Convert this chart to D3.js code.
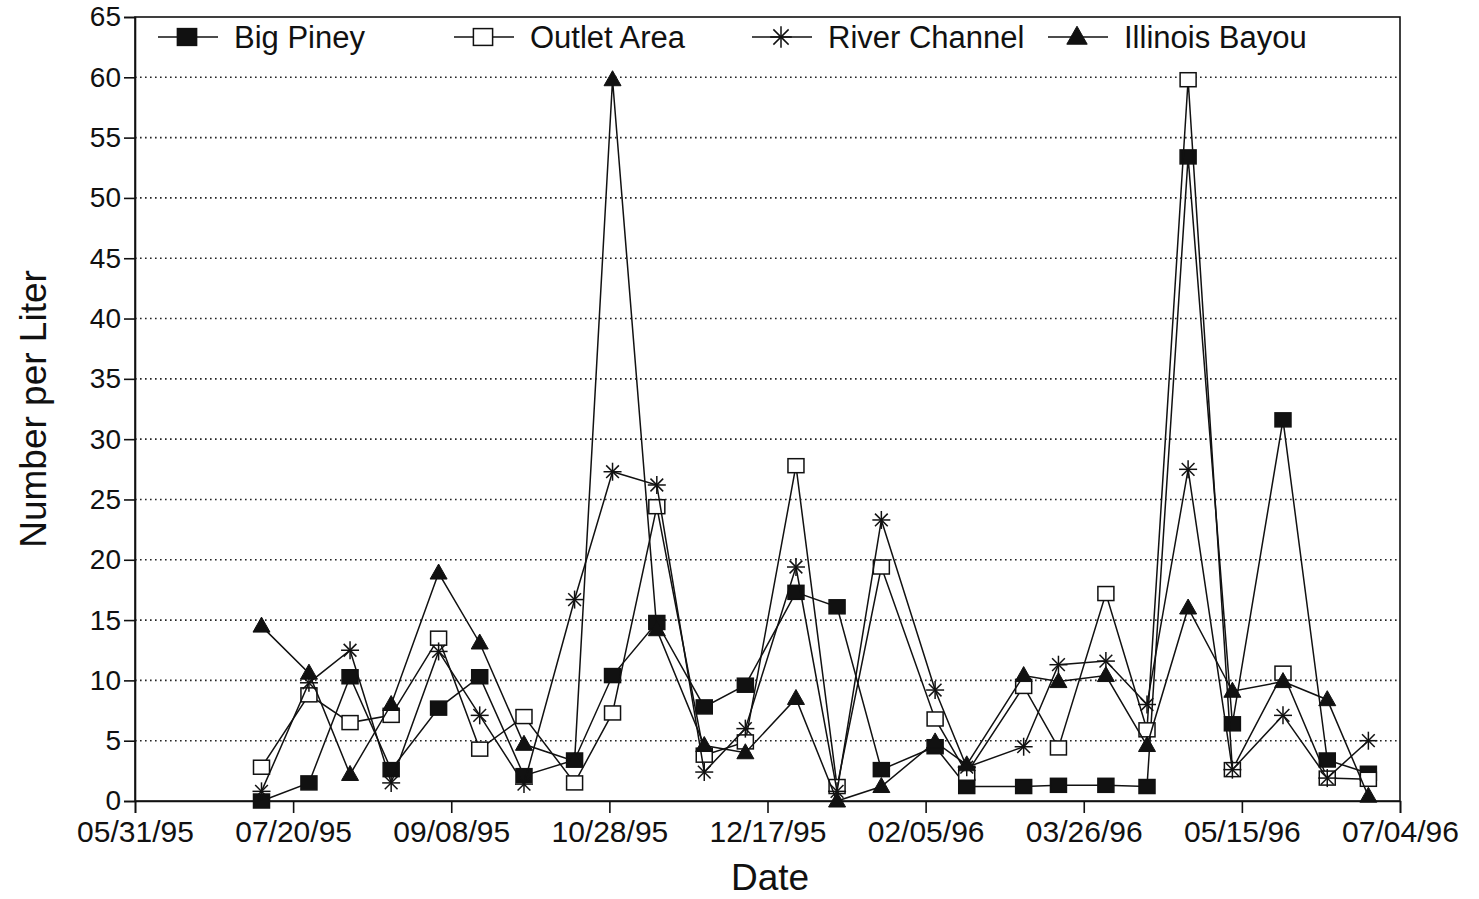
<!DOCTYPE html>
<html>
<head>
<meta charset="utf-8">
<script src="https://cdn.jsdelivr.net/npm/d3@7"></script>
<style>
    body { margin: 0; background: #ffffff; }
    svg { display: block; font-family: "Liberation Sans", Arial, sans-serif; }
</style>
</head>
<body>
<div id="chart"></div>
<script>
// Sampling dates (roughly every two weeks)
const dates = [
    "1995-07-10", "1995-07-25", "1995-08-07", "1995-08-20", "1995-09-04",
    "1995-09-17", "1995-10-01", "1995-10-17", "1995-10-29", "1995-11-12",
    "1995-11-27", "1995-12-10", "1995-12-26", "1996-01-08", "1996-01-22",
    "1996-02-08", "1996-02-18", "1996-03-07", "1996-03-18", "1996-04-02",
    "1996-04-15", "1996-04-28", "1996-05-12", "1996-05-28", "1996-06-11",
    "1996-06-24"
];

const bigPiney = [0, 1.5, 10.3, 2.6, 7.7, 10.3, 2.1, 3.4, 10.4, 14.8, 7.8, 9.6, 17.3,
    16.1, 2.6, 4.5, 1.2, 1.2, 1.3, 1.3, 1.2, 53.4, 6.4, 31.6, 3.4, 2.3];
const outletArea = [2.8, 8.8, 6.5, 7.1, 13.5, 4.3, 7.0, 1.5, 7.3, 24.4, 3.8, 4.9, 27.8,
    1.2, 19.4, 6.8, 2.3, 9.5, 4.4, 17.2, 5.9, 59.8, 2.6, 10.6, 1.9, 1.8];
const riverChannel = [0.8, 9.8, 12.5, 1.5, 12.4, 7.1, 1.4, 16.7, 27.3, 26.2, 2.4, 6.0, 19.4,
    0.8, 23.3, 9.2, 2.8, 4.5, 11.3, 11.6, 8.0, 27.5, 2.6, 7.1, 1.9, 5.0];
const illinoisBayou = [14.5, 10.6, 2.2, 8.0, 18.9, 13.1, 4.7, 3.3, 59.8, 14.2, 4.6, 4.0, 8.5,
    0, 1.2, 4.9, 3.0, 10.4, 9.9, 10.4, 4.6, 16.0, 9.1, 9.9, 8.4, 0.4];

const seriesNames = ["Big Piney", "Outlet Area", "River Channel", "Illinois Bayou"];
const seriesMarkers = ["filledSquare", "openSquare", "star", "triangle"];
const yTicks = [0, 5, 10, 15, 20, 25, 30, 35, 40, 45, 50, 55, 60, 65];
const xStart = "1995-05-31";
const xEnd = "1996-07-04";

function drawChart() {
    const width = 1479;
    const height = 899;
    const margin = { left: 135, right: 79, top: 17, bottom: 98 };
    const parse = d3.timeParse("%Y-%m-%d");

    const svg = d3.select("#chart")
        .append("svg")
        .attr("width", width)
        .attr("height", height);

    const x = d3.scaleTime()
        .domain([parse(xStart), parse(xEnd)])
        .range([margin.left, width - margin.right]);

    const y = d3.scaleLinear()
        .domain([0, 65])
        .range([height - margin.bottom, margin.top]);

    // Dotted gridlines
    svg.append("g")
        .selectAll("line")
        .data(yTicks.filter(v => v > 0 && v < 65))
        .join("line")
        .attr("x1", x.range()[0])
        .attr("x2", x.range()[1])
        .attr("y1", d => y(d))
        .attr("y2", d => y(d))
        .style("stroke", "#222")
        .style("stroke-width", 1.6)
        .style("stroke-dasharray", "1.6,3.4");

    // Frame
    svg.append("rect")
        .attr("x", x.range()[0])
        .attr("y", y.range()[1])
        .attr("width", x.range()[1] - x.range()[0])
        .attr("height", y.range()[0] - y.range()[1])
        .style("fill", "none")
        .style("stroke", "#111")
        .style("stroke-width", 1.6);

    // X axis, a tick every 50 days
    const xTickValues = d3.range(0, 401, 50).map(d => d3.timeDay.offset(parse(xStart), d));
    const xAxis = svg.append("g")
        .attr("transform", `translate(0,${y(0)})`)
        .call(d3.axisBottom(x)
            .tickValues(xTickValues)
            .tickFormat(d3.timeFormat("%m/%d/%y"))
            .tickSize(12)
            .tickPadding(8));
    xAxis.selectAll("text")
        .style("font-size", "30px")
        .style("fill", "#111")
        .style("font-family", "'Liberation Sans', Arial, sans-serif");

    // Y axis
    const yAxis = svg.append("g")
        .attr("transform", `translate(${x.range()[0]},0)`)
        .call(d3.axisLeft(y)
            .tickValues(yTicks)
            .tickSize(11)
            .tickPadding(3));
    yAxis.selectAll("text")
        .style("font-size", "28px")
        .style("fill", "#111")
        .style("font-family", "'Liberation Sans', Arial, sans-serif");

    [xAxis, yAxis].forEach(a => {
        a.select(".domain").style("stroke", "#111").style("stroke-width", 1.6);
        a.selectAll(".tick line").style("stroke", "#111").style("stroke-width", 1.6);
    });

    // Axis titles
    svg.append("text")
        .attr("x", 770)
        .attr("y", 890)
        .attr("text-anchor", "middle")
        .style("font-size", "37px")
        .style("fill", "#111")
        .text("Date");

    svg.append("text")
        .attr("transform", "translate(46,409) rotate(-90)")
        .attr("text-anchor", "middle")
        .style("font-size", "37px")
        .style("fill", "#111")
        .text("Number per Liter");

    // Marker drawing helper
    function drawMarker(g, type, cx, cy, s) {
        if (type === "filledSquare" || type === "openSquare") {
            g.append("rect")
                .attr("x", cx - 8 * s)
                .attr("y", cy - 7 * s)
                .attr("width", 16 * s)
                .attr("height", 14 * s)
                .style("fill", type === "filledSquare" ? "#111" : "#fff")
                .style("stroke", "#111")
                .style("stroke-width", 1.5);
        } else if (type === "triangle") {
            g.append("path")
                .attr("d", `M${cx},${cy - 9 * s}L${cx + 8.5 * s},${cy + 6 * s}L${cx - 8.5 * s},${cy + 6 * s}Z`)
                .style("fill", "#111")
                .style("stroke", "#111")
                .style("stroke-width", 1);
        } else {
            const r = 9 * s;
            [0, 45, 90, 135].forEach(a => {
                const rad = a * Math.PI / 180;
                g.append("line")
                    .attr("x1", cx - r * Math.cos(rad))
                    .attr("y1", cy - r * Math.sin(rad))
                    .attr("x2", cx + r * Math.cos(rad))
                    .attr("y2", cy + r * Math.sin(rad))
                    .style("stroke", "#111")
                    .style("stroke-width", 1.5);
            });
        }
    }

    // Series
    const allSeries = [bigPiney, outletArea, riverChannel, illinoisBayou];
    const line = d3.line()
        .x(d => x(d.date))
        .y(d => y(d.value));

    allSeries.forEach((values, i) => {
        const pts = values.map((v, j) => ({ date: parse(dates[j]), value: v }));
        const g = svg.append("g");
        g.append("path")
            .datum(pts)
            .attr("d", line)
            .style("fill", "none")
            .style("stroke", "#111")
            .style("stroke-width", 1.5);
        pts.forEach(p => drawMarker(g, seriesMarkers[i], x(p.date), y(p.value), 1));
    });

    // Legend
    const legendX = [158, 454, 752, 1048];
    const legend = svg.append("g");
    seriesNames.forEach((name, i) => {
        const lx = legendX[i];
        const ly = 37;
        legend.append("line")
            .attr("x1", lx)
            .attr("x2", lx + 60)
            .attr("y1", ly)
            .attr("y2", ly)
            .style("stroke", "#111")
            .style("stroke-width", 1.4);
        drawMarker(legend, seriesMarkers[i], lx + 29, ly, 1.2);
        legend.append("text")
            .attr("x", lx + 76)
            .attr("y", ly + 11)
            .style("font-size", "31px")
            .style("fill", "#111")
            .text(name);
    });
}

window.addEventListener("load", drawChart);
</script>
</body>
</html>
